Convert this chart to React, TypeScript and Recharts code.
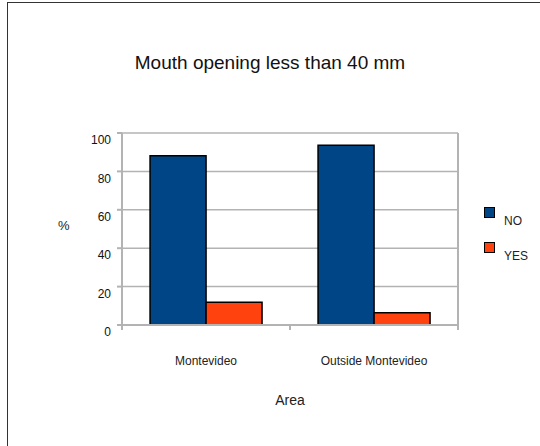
import React from "react";
import { Bar, BarChart, CartesianGrid, ReferenceLine, XAxis, YAxis } from "recharts";

const areas = ["Montevideo", "Outside Montevideo"];
const noValues = [88.2, 93.6];
const yesValues = [11.8, 6.4];
const yTicks = [0, 20, 40, 60, 80, 100];
const seriesNames = ["NO", "YES"];

const data = areas.map((area, i) => ({ area, NO: noValues[i], YES: yesValues[i] }));

const NO_COLOR = "#004586";
const YES_COLOR = "#ff420e";
const AXIS_GRAY = "#b3b3b3";
const FONT = "'Liberation Sans', Arial, sans-serif";

const W = 540;
const H = 446;
const M = { top: 133, right: 82, bottom: 91, left: 82 };
const Y_AXIS_W = 40;
const BAND = (W - M.left - M.right - Y_AXIS_W) / areas.length;

function XTick(props: any) {
  const { x, y, payload } = props;
  return (
    <g>
      <line x1={x - BAND / 2} x2={x - BAND / 2} y1={y - 8} y2={y - 3} stroke={AXIS_GRAY} strokeWidth={2} />
      <line x1={x + BAND / 2} x2={x + BAND / 2} y1={y - 8} y2={y - 3} stroke={AXIS_GRAY} strokeWidth={2} />
      <text x={x} y={y + 32} textAnchor="middle" fontSize={12} fill="#222" fontFamily={FONT}>
        {payload.value}
      </text>
    </g>
  );
}

function LegendBox() {
  const colors = [NO_COLOR, YES_COLOR];
  return (
    <div style={{ position: "absolute", left: 484, top: 207, fontFamily: FONT, fontSize: 12, color: "#222" }}>
      {seriesNames.map((name, i) => (
        <div key={name} style={{ display: "flex", alignItems: "flex-start", height: 35 }}>
          <span
            style={{
              display: "inline-block",
              width: 9,
              height: 9,
              background: colors[i],
              border: "1.5px solid #000",
              marginRight: 9,
            }}
          />
          <span style={{ marginTop: 7 }}>{name}</span>
        </div>
      ))}
    </div>
  );
}

export default function App() {
  return (
    <div style={{ position: "fixed", left: 0, top: 0, width: W, height: H, background: "#fff", overflow: "hidden" }}>
      <div
        style={{
          position: "absolute",
          left: 7,
          top: 2,
          width: W + 20,
          height: H + 20,
          border: "1px solid #333",
        }}
      />
      <div
        style={{
          position: "absolute",
          left: 0,
          top: 52,
          width: W,
          textAlign: "center",
          fontFamily: FONT,
          fontSize: 19,
          color: "#111",
        }}
      >
        Mouth opening less than 40 mm
      </div>
      <div style={{ position: "absolute", left: 0, top: 0 }}>
        <BarChart width={W} height={H} data={data} margin={M} barCategoryGap="16.7%" barGap={0}>
          <CartesianGrid vertical={false} stroke={AXIS_GRAY} strokeWidth={1.5} />
          <XAxis
            dataKey="area"
            stroke={AXIS_GRAY}
            strokeWidth={2}
            tickLine={false}
            tick={<XTick />}
            height={30}
            label={{ value: "Area", position: "insideBottom", offset: -50, fontSize: 14, fill: "#222", fontFamily: FONT }}
          />
          <YAxis
            domain={[0, 100]}
            ticks={yTicks}
            width={Y_AXIS_W}
            stroke={AXIS_GRAY}
            strokeWidth={2}
            tickSize={5}
            tickMargin={6}
            tick={{ fontSize: 12, fill: "#111", fontFamily: FONT, dy: 7 }}
            label={{ value: "%", position: "insideLeft", offset: -24, dy: -4, fontSize: 13, fill: "#222", fontFamily: FONT }}
          />
          <ReferenceLine x="Outside Montevideo" position="end" stroke={AXIS_GRAY} strokeWidth={2} />
          <Bar dataKey="NO" fill={NO_COLOR} stroke="#000" strokeWidth={1.5} isAnimationActive={false} />
          <Bar dataKey="YES" fill={YES_COLOR} stroke="#000" strokeWidth={1.5} isAnimationActive={false} />
        </BarChart>
      </div>
      <LegendBox />
    </div>
  );
}
